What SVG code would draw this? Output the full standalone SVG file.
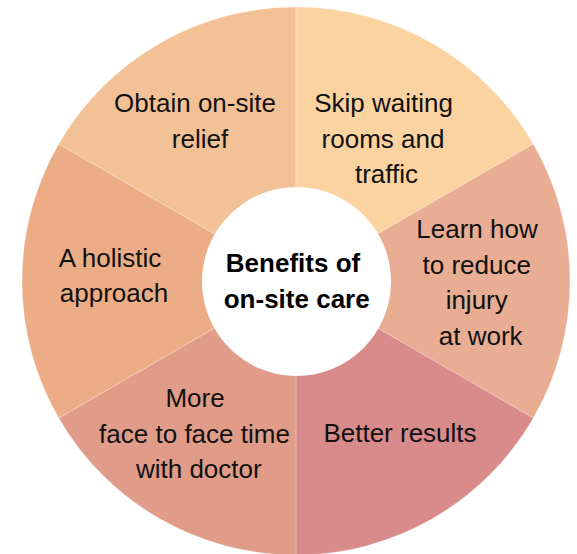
<svg xmlns="http://www.w3.org/2000/svg" width="577" height="554" viewBox="0 0 577 554">
<style>
.seg{stroke:#ffffff;stroke-opacity:0.25;stroke-width:1}
.lbl{font-family:"Liberation Sans",Arial,sans-serif;font-size:26px;fill:#111111;text-anchor:middle}
.ctr{font-family:"Liberation Sans",Arial,sans-serif;font-size:26px;font-weight:bold;fill:#000000;text-anchor:middle}
</style>
<rect width="577" height="554" fill="#ffffff"/>
<g id="seg-obtain">
<path class="seg" fill="#F2C196" d="M296,281 L296,7 A274,274 0 0 0 58.71,144 Z"/>
<text class="lbl" x="195" y="112">Obtain on-site</text>
<text class="lbl" x="200" y="147.5">relief</text>
</g>
<g id="seg-skip">
<path class="seg" fill="#FAD3A1" d="M296,281 L296,7 A274,274 0 0 1 533.29,144 Z"/>
<text class="lbl" x="383.5" y="112">Skip waiting</text>
<text class="lbl" x="383" y="148">rooms and</text>
<text class="lbl" x="386.5" y="183">traffic</text>
</g>
<g id="seg-learn">
<path class="seg" fill="#E8AD93" d="M296,281 L533.29,144 A274,274 0 0 1 533.29,418 Z"/>
<text class="lbl" x="477" y="238">Learn how</text>
<text class="lbl" x="476.7" y="273.5">to reduce</text>
<text class="lbl" x="476.7" y="309">injury</text>
<text class="lbl" x="480.7" y="345">at work</text>
</g>
<g id="seg-better">
<path class="seg" fill="#D98A8A" d="M296,281 L533.29,418 A274,274 0 0 1 296,555 Z"/>
<text class="lbl" x="400" y="442">Better results</text>
</g>
<g id="seg-more">
<path class="seg" fill="#E09C88" d="M296,281 L296,555 A274,274 0 0 1 58.71,418 Z"/>
<text class="lbl" x="195" y="406.7">More</text>
<text class="lbl" x="194.5" y="442.7">face to face time</text>
<text class="lbl" x="198.8" y="478.3">with doctor</text>
</g>
<g id="seg-holistic">
<path class="seg" fill="#ECAD86" d="M296,281 L58.71,418 A274,274 0 0 1 58.71,144 Z"/>
<text class="lbl" x="110" y="267">A holistic</text>
<text class="lbl" x="114" y="302">approach</text>
</g>
<g id="center">
<circle cx="296.5" cy="281.5" r="94.5" fill="#ffffff"/>
<text class="ctr" x="293" y="271.7">Benefits of</text>
<text class="ctr" x="296.7" y="307.7">on-site care</text>
</g>
<g id="connectors"/>
</svg>
